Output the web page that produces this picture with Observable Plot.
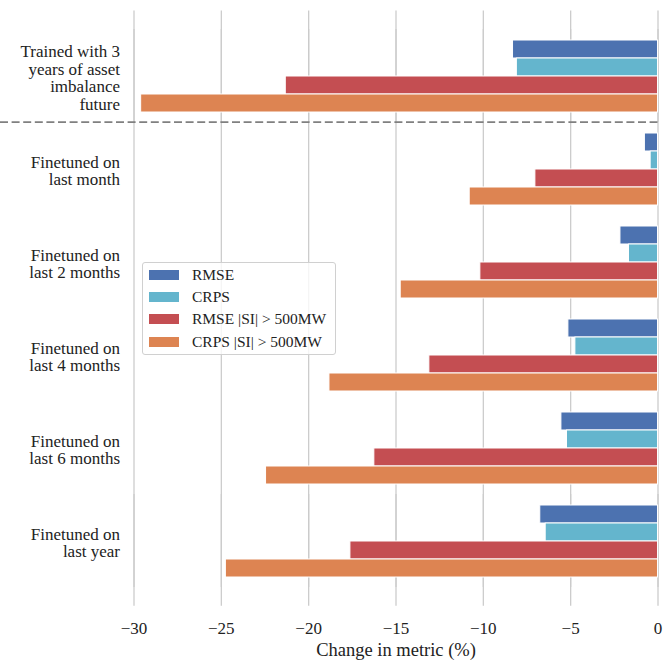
<!DOCTYPE html>
<html>
<head>
<meta charset="utf-8">
<script src="https://cdn.jsdelivr.net/npm/d3@7"></script>
<script src="https://cdn.jsdelivr.net/npm/@observablehq/plot@0.6"></script>
<style>
  body { margin: 0; background: #fff; }
  #chart { position: relative; width: 664px; height: 661px; font-family: "Liberation Serif", "Times New Roman", serif; color: #222; }
  .legend { position: absolute; box-sizing: border-box; border: 1px solid #d0d0d0; border-radius: 3px; background: rgba(255,255,255,0.8); }
  .legend .row { position: absolute; left: 0; height: 22px; display: flex; align-items: center; white-space: nowrap; font-size: 15.5px; }
  .legend .sw { width: 30px; height: 10px; margin-left: 6.5px; margin-right: 13px; }
</style>
</head>
<body>
<div id="chart"></div>
<script>
// Model variants (one bar group each)
const groups = [
  "Trained with 3\nyears of asset\nimbalance\nfuture",
  "Finetuned on\nlast month",
  "Finetuned on\nlast 2 months",
  "Finetuned on\nlast 4 months",
  "Finetuned on\nlast 6 months",
  "Finetuned on\nlast year"
];

// Metrics (one bar per metric within each group)
const metrics = ["RMSE", "CRPS", "RMSE |SI| > 500MW", "CRPS |SI| > 500MW"];
const metricColors = ["#4c72b0", "#64b5cd", "#c44e52", "#dd8452"];

// Relative change in each metric (%), in the order of `groups`
const rmse        = [-8.3, -0.75, -2.15, -5.13, -5.53, -6.74];
const crps        = [-8.08, -0.42, -1.66, -4.73, -5.21, -6.43];
const rmseExtreme = [-21.31, -7.02, -10.17, -13.09, -16.24, -17.61];
const crpsExtreme = [-29.59, -10.78, -14.73, -18.81, -22.44, -24.74];

const xTicks = [-30, -25, -20, -15, -10, -5, 0];
const xTitle = "Change in metric (%)";

const series = [rmse, crps, rmseExtreme, crpsExtreme];
const rows = groups.flatMap((group, i) =>
  metrics.map((metric, j) => ({group, metric, value: series[j][i]}))
);

const W = 664, H = 661;
const marginTop = 10, marginBottom = 55, marginLeft = 133.5, marginRight = 6.5;
const padOuter = 0.2;
const step = (H - marginTop - marginBottom) / (groups.length + 2 * padOuter);
const edge = padOuter * step; // blank band above the first and below the last group

// Grid lines: one set per facet, stretched to the frame edges on the outer facets
const gridFirst = xTicks.map(x => ({x, group: groups[0]}));
const gridLast = xTicks.map(x => ({x, group: groups[groups.length - 1]}));
const gridStyle = {stroke: "#cccccc", strokeWidth: 1.3};

const plot = Plot.plot({
  width: W,
  height: H,
  marginTop, marginBottom, marginLeft, marginRight,
  style: {fontFamily: '"Liberation Serif", "Times New Roman", serif', background: "white", color: "#222"},
  x: {domain: [-30, 0]},
  y: {domain: metrics, paddingInner: 0, paddingOuter: 0.5, axis: null},
  fy: {domain: groups, paddingInner: 0, paddingOuter: padOuter, axis: null, label: null},
  color: {domain: metrics, range: metricColors},
  marks: [
    Plot.ruleX(xTicks, gridStyle),
    Plot.ruleX(gridFirst, {x: "x", fy: "group", insetTop: -edge, ...gridStyle}),
    Plot.ruleX(gridLast, {x: "x", fy: "group", insetBottom: -edge, ...gridStyle}),
    Plot.barX(rows, {x: "value", y: "metric", fy: "group", fill: "metric", stroke: "white", strokeWidth: 1}),
    Plot.ruleY([{group: groups[0], metric: metrics[3]}], {
      y: "metric", fy: "group", dy: 0.2 * step, insetLeft: -marginLeft,
      stroke: "#808080", strokeWidth: 1.6, strokeDasharray: "8,3.6"
    }),
    Plot.axisFy({anchor: "left", tickSize: 0, tickPadding: 14, fontSize: 17, lineHeight: 1.03, dy: 2, label: null}),
    Plot.axisX(xTicks, {tickSize: 0, tickPadding: 34, fontSize: 17, label: null}),
    Plot.text([xTitle], {facet: "super", frameAnchor: "bottom", lineAnchor: "middle", dy: 63, fontSize: 18.5, fill: "#222"})
  ]
});

const chart = document.getElementById("chart");
chart.appendChild(plot);

// Legend box drawn over the plot area
const color = plot.scale("color");
const legend = document.createElement("div");
legend.className = "legend";
Object.assign(legend.style, {left: "141.5px", top: "262px", width: "194px", height: "93px"});
metrics.forEach((m, i) => {
  const row = document.createElement("div");
  row.className = "row";
  row.style.top = (1 + i * 22.2) + "px";
  const sw = document.createElement("span");
  sw.className = "sw";
  sw.style.background = color.apply(m);
  const label = document.createElement("span");
  label.textContent = m;
  row.append(sw, label);
  legend.appendChild(row);
});
chart.appendChild(legend);
</script>
</body>
</html>
